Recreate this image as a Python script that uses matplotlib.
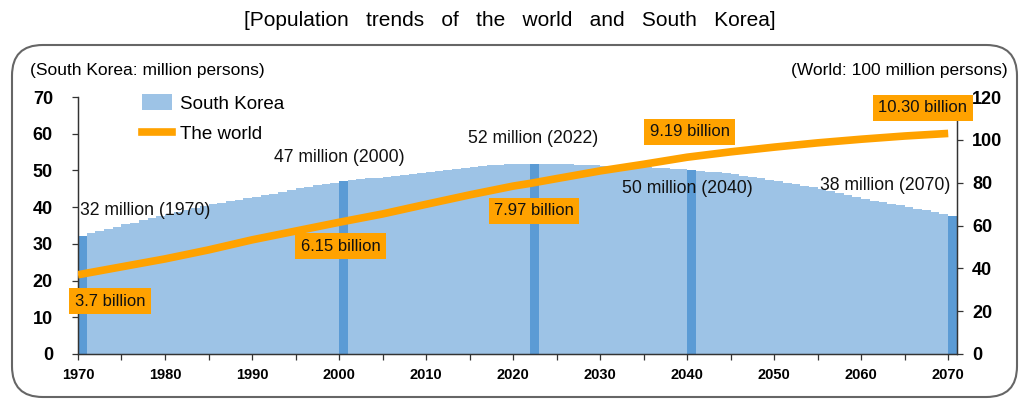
import matplotlib
matplotlib.use("Agg")
import matplotlib.pyplot as plt
from matplotlib.patches import FancyBboxPatch, Patch
from matplotlib.lines import Line2D
import numpy as np

plt.rcParams['font.family'] = ['Liberation Sans', 'DejaVu Sans']

# South Korea population, million persons, 1970-2070 (yearly)
korea_years = list(range(1970, 2071))
korea_pop = [
    32.2, 32.9, 33.5, 34.1, 34.7, 35.3, 35.8, 36.4, 37.0, 37.5,
    38.1, 38.7, 39.3, 39.9, 40.4, 40.8, 41.2, 41.6, 42.0, 42.4,
    42.9, 43.3, 43.7, 44.2, 44.6, 45.1, 45.5, 46.0, 46.3, 46.6,
    47.0, 47.4, 47.6, 47.9, 48.0, 48.2, 48.4, 48.7, 49.1, 49.3,
    49.6, 49.9, 50.2, 50.4, 50.7, 51.0, 51.2, 51.4, 51.6, 51.8,
    51.8, 51.7, 51.7, 51.7, 51.8, 51.7, 51.7, 51.6, 51.5, 51.4,
    51.3, 51.2, 51.1, 51.1, 51.0, 50.9, 50.7, 50.6, 50.5, 50.3,
    50.1, 49.9, 49.7, 49.5, 49.2, 49.0, 48.6, 48.2, 47.9, 47.5,
    47.1, 46.7, 46.3, 45.9, 45.4, 45.0, 44.5, 43.9, 43.4, 42.8,
    42.3, 41.8, 41.4, 40.9, 40.5, 40.0, 39.5, 39.1, 38.6, 38.2,
    37.7,
]
highlight_years = [1970, 2000, 2022, 2040, 2070]

# World population, 100 million persons
world_years = [1970, 1975, 1980, 1985, 1990, 1995, 2000, 2005, 2010, 2015,
               2020, 2022, 2025, 2030, 2035, 2040, 2045, 2050, 2055, 2060,
               2065, 2070]
world_pop = [37.0, 40.7, 44.4, 48.6, 53.3, 57.4, 61.5, 65.4, 69.9, 74.3,
             78.4, 79.7, 81.9, 85.5, 88.6, 91.9, 94.4, 96.6, 98.6, 100.3,
             101.8, 103.0]

korea_labels = ["32 million (1970)", "47 million (2000)", "52 million (2022)",
                "50 million (2040)", "38 million (2070)"]
world_labels = ["3.7 billion", "6.15 billion", "7.97 billion",
                "9.19 billion", "10.30 billion"]

LIGHT_BLUE = "#9DC3E6"
DARK_BLUE = "#5B9BD5"
ORANGE = "#FFA200"

fig = plt.figure(figsize=(10.22, 3.99), dpi=100)
ax = fig.add_axes([0.0763, 0.1128, 0.860, 0.644])
ax2 = ax.twinx()

colors = [DARK_BLUE if y in highlight_years else LIGHT_BLUE for y in korea_years]
ax.bar(korea_years, korea_pop, width=1.0, align='edge', color=colors,
       linewidth=0, antialiased=False, zorder=2)
ax2.plot(world_years, world_pop, color=ORANGE, linewidth=5.5,
         solid_capstyle='butt', zorder=3)

ax.set_xlim(1970, 2071)
ax.set_ylim(0, 70)
ax2.set_ylim(0, 120)
ax.set_xticks(range(1970, 2071, 10))
ax.set_xticks(range(1975, 2071, 10), minor=True)
ax.set_yticks(range(0, 71, 10))
ax2.set_yticks(range(0, 121, 20))

for a in (ax, ax2):
    a.spines['top'].set_visible(False)
    for s in a.spines.values():
        s.set_color('#333333')
        s.set_linewidth(0.9)
ax.tick_params(axis='both', which='both', direction='out', length=4,
               width=0.9, color='#333333')
ax.tick_params(axis='x', labelsize=10.5, pad=6)
ax.tick_params(axis='y', labelsize=13, pad=14)
ax2.tick_params(axis='y', direction='out', length=4, width=0.9,
                color='#333333', labelsize=13, pad=7)
for lbl in ax.get_xticklabels() + ax.get_yticklabels() + ax2.get_yticklabels():
    lbl.set_fontweight('bold')

# Korea labels (data coords on left axis)
korea_pos = [(1970.2, 39.2, 'left'), (2000.0, 53.4, 'center'),
             (2022.3, 58.6, 'center'), (2040.0, 45.2, 'center'),
             (2070.3, 45.8, 'right')]
for txt, (x, y, ha) in zip(korea_labels, korea_pos):
    ax2.text(x, y, txt, transform=ax.transData, ha=ha, va='center',
             fontsize=12.7, color='#111111', zorder=5)

# World labels (data coords on right axis)
world_pos = [(1973.7, 24.7), (2000.2, 50.4), (2022.4, 66.8),
             (2040.3, 103.7), (2067.1, 114.9)]
for txt, (x, y) in zip(world_labels, world_pos):
    ax2.text(x, y, txt, ha='center', va='center', fontsize=12,
             color='#111111', zorder=6,
             bbox=dict(boxstyle='square,pad=0.33', fc=ORANGE, ec='none'))

handles = [Patch(facecolor=LIGHT_BLUE, edgecolor='none'),
           Line2D([0], [0], color=ORANGE, linewidth=5.5)]
ax2.legend(handles, ["South Korea", "The world"], loc='upper left',
           bbox_to_anchor=(0.064, 1.04), frameon=False, fontsize=13.5,
           handlelength=1.6, handleheight=0.9, labelspacing=0.65,
           handletextpad=0.45, borderaxespad=0)

fig.text(30 / 1022, 1 - 70 / 399, "(South Korea: million persons)",
         ha='left', va='center', fontsize=12.5)
fig.text(1008 / 1022, 1 - 70 / 399, "(World: 100 million persons)",
         ha='right', va='center', fontsize=12.5)

fig.text(510 / 1022, 1 - 20 / 399,
         "[Population   trends   of   the   world   and   South   Korea]",
         ha='center', va='center', fontsize=15)

frame = FancyBboxPatch((12 / 1022, 2 / 399), 1005 / 1022, 352 / 399,
                       boxstyle='round,pad=0,rounding_size=0.03',
                       transform=fig.transFigure, fill=False,
                       ec='#666666', lw=1.5, mutation_aspect=1022 / 399)
fig.patches.append(frame)

fig.savefig("out.png", dpi=100)
